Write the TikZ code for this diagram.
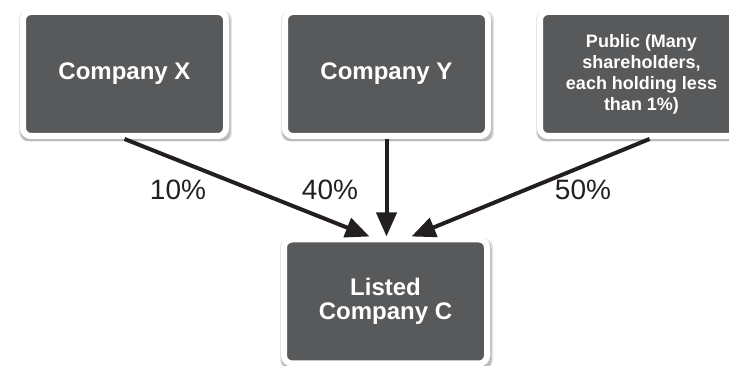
\documentclass[tikz,border=0pt]{standalone}
\usepackage{fontspec}
\setmainfont{Liberation Sans}
\usetikzlibrary{arrows.meta,shadows}
\definecolor{boxgray}{RGB}{88,89,91}
\definecolor{inkblack}{RGB}{35,31,32}
\tikzset{
  holder/.style={fill=boxgray, draw=white, line width=6pt, rounded corners=8pt,
    minimum width=203pt, minimum height=124pt, text=white, align=center,
    font=\bfseries\fontsize{24}{24}\selectfont,
    general shadow={shadow xshift=1pt, shadow yshift=-2pt, shadow scale=1.05, fill=black, opacity=0.10},
    general shadow={shadow xshift=1pt, shadow yshift=-3pt, shadow scale=1.035, fill=black, opacity=0.18}},
  stake/.style={draw=inkblack, line width=4pt, -{Triangle[length=24pt,width=20pt]}},
  pct/.style={text=inkblack, font=\fontsize{28}{28}\selectfont}
}
\begin{document}
\begin{tikzpicture}[x=1pt,y=1pt,yscale=-1,xscale=1]
\useasboundingbox (0,0) rectangle (729,366);
\clip (0,0) rectangle (729,366);

% Holder boxes
\node [holder] (compX) at (124.5,74) {Company X};
\node [holder] (compY) at (386.5,74) {Company Y};
\node [holder, font=\bfseries\fontsize{18}{21}\selectfont] (public) at (641.5,74) {Public (Many\\shareholders,\\each holding less\\than 1\%)};
% Listed company
\node [holder] (compC) at (385.5,301.5) {Listed\\Company C};

% Stakes
\draw [stake] (compX.south) -- ([xshift=-16pt]compC.north);
\draw [stake] (compY.south) -- (compY.south |- compC.north);
\draw [stake] ([xshift=8pt]public.south) -- ([xshift=26pt]compC.north);

% Text Node
\node [pct] (pctX) at (178,190) {10\%};
% Text Node
\node [pct] (pctY) at (330,190) {40\%};
% Text Node
\node [pct] (pctP) at (583,190) {50\%};

\end{tikzpicture}
\end{document}
